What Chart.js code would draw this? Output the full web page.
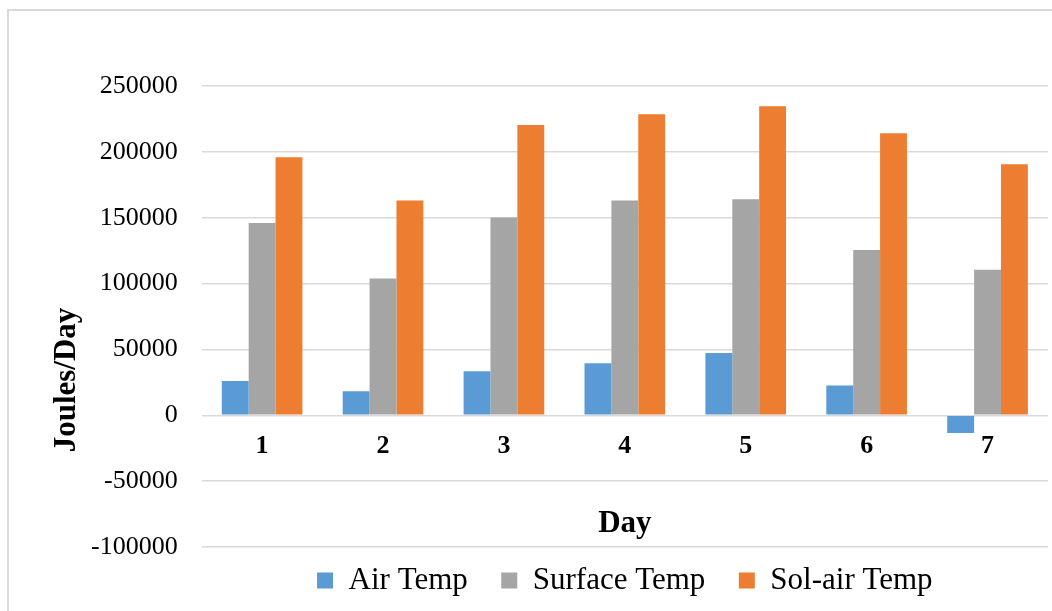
<!DOCTYPE html>
<html>
<head>
<meta charset="utf-8">
<script src="https://cdn.jsdelivr.net/npm/chart.js@4/dist/chart.umd.min.js"></script>
<style>
  html, body { margin: 0; padding: 0; background: #fff; }
  #wrap { position: relative; width: 1052px; height: 611px; overflow: hidden; }
  #frame { position: absolute; left: 7px; top: 9px; width: 1200px; height: 800px; border: 2px solid #d9d9d9; pointer-events: none; }
</style>
</head>
<body>
<div id="wrap">
  <canvas id="chart" width="1052" height="611"></canvas>
  <div id="frame"></div>
</div>
<script>
const days = ['1', '2', '3', '4', '5', '6', '7'];
const airTemp = [26000, 18300, 33500, 39600, 47300, 22600, -13400];
const surfaceTemp = [146000, 103800, 150200, 163000, 164000, 125500, 110500];
const solAirTemp = [196000, 163000, 220400, 228500, 234700, 214200, 190600];

const serif = '"Liberation Serif", "Times New Roman", serif';

// axis titles sit inside the plot like in Excel, so draw them by hand
const axisTitles = {
  id: 'axisTitles',
  afterDraw(chart) {
    const { ctx, chartArea } = chart;
    const y = chart.scales.y;
    ctx.save();
    ctx.fillStyle = '#000';
    ctx.font = 'bold 31px ' + serif;
    ctx.textAlign = 'center';
    ctx.textBaseline = 'alphabetic';
    ctx.fillText('Day', (chartArea.left + chartArea.right) / 2, y.getPixelForValue(-100000) - 15);
    ctx.translate(75, 380);
    ctx.rotate(-Math.PI / 2);
    ctx.fillText('Joules/Day', 0, 0);
    ctx.restore();
  }
};

const ctx = document.getElementById('chart').getContext('2d');

new Chart(ctx, {
  type: 'bar',
  data: {
    labels: days,
    datasets: [
      { label: 'Air Temp', data: airTemp, backgroundColor: '#5B9BD5' },
      { label: 'Surface Temp', data: surfaceTemp, backgroundColor: '#A5A5A5' },
      { label: 'Sol-air Temp', data: solAirTemp, backgroundColor: '#ED7D31' }
    ]
  },
  options: {
    responsive: false,
    animation: false,
    datasets: {
      bar: { categoryPercentage: 0.667, barPercentage: 1, borderWidth: 0 }
    },
    layout: { padding: { left: 67, right: 4, top: 86, bottom: 5 } },
    plugins: {
      legend: {
        position: 'bottom',
        fullSize: false,
        labels: {
          color: '#000',
          font: { family: serif, size: 31 },
          boxWidth: 16,
          boxHeight: 16,
          padding: 18,
          // wider gaps between items than the vertical padding allows
          generateLabels: (chart) => {
            const items = Chart.defaults.plugins.legend.labels.generateLabels(chart);
            items.forEach((item, i) => {
              if (i < items.length - 1) item.text += '  ';
            });
            return items;
          }
        }
      },
      tooltip: { enabled: false }
    },
    scales: {
      x: {
        position: { y: 0 },
        afterFit: (scale) => { scale.height = 0; },
        grid: { display: false, drawTicks: false },
        border: { display: false },
        ticks: {
          color: '#000',
          font: { family: serif, size: 26, weight: 'bold' },
          padding: 15
        }
      },
      y: {
        min: -100000,
        max: 250000,
        grid: { color: '#d9d9d9', lineWidth: 1.5, drawTicks: false },
        border: { display: false },
        ticks: {
          stepSize: 50000,
          color: '#000',
          font: { family: serif, size: 26 },
          padding: 24,
          callback: (v) => String(v)
        }
      }
    }
  },
  plugins: [axisTitles]
});
</script>
</body>
</html>
